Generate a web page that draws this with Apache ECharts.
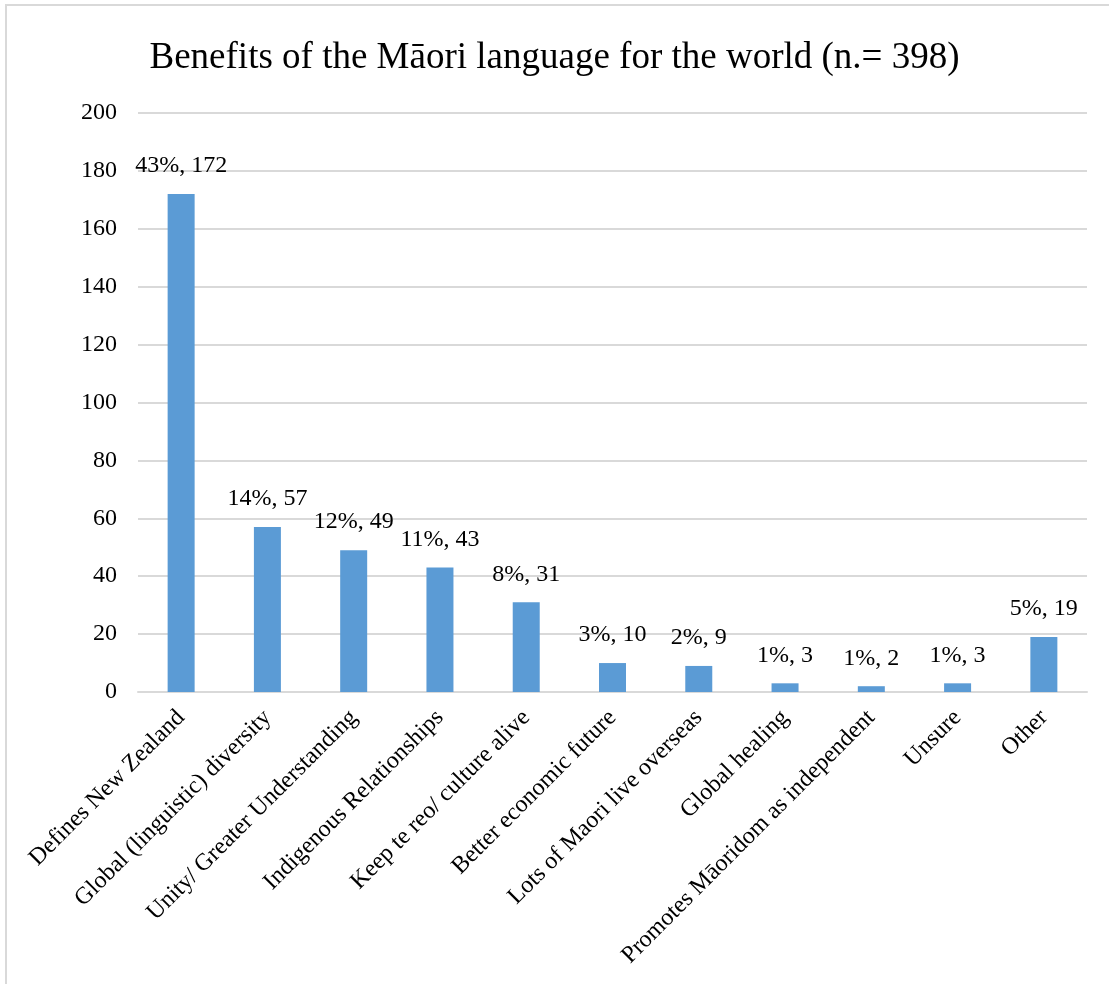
<!DOCTYPE html>
<html>
<head>
<meta charset="utf-8">
<script src="https://cdn.jsdelivr.net/npm/echarts@6/dist/echarts.min.js"></script>
<style>
  html, body { margin: 0; padding: 0; background: #fff; }
  #chart { width: 1109px; height: 984px; }
</style>
</head>
<body>
<div id="chart"></div>
<script>
// Survey responses: benefits of te reo Māori for the world
const categories = [
  'Defines New Zealand',
  'Global (linguistic) diversity',
  'Unity/ Greater Understanding',
  'Indigenous Relationships',
  'Keep te reo/ culture alive',
  'Better economic future',
  'Lots of Maori live overseas',
  'Global healing',
  'Promotes Māoridom as independent',
  'Unsure',
  'Other'
];
const counts = [172, 57, 49, 43, 31, 10, 9, 3, 2, 3, 19];
const percents = [43, 14, 12, 11, 8, 3, 2, 1, 1, 1, 5];
const yTicks = { min: 0, max: 200, interval: 20 };

const serif = '"Liberation Serif", "Times New Roman", serif';
const chart = echarts.init(document.getElementById('chart'));

chart.setOption({
  animation: false,
  backgroundColor: '#fff',
  title: {
    text: 'Benefits of the Māori language for the world (n.= 398)',
    left: 'center',
    top: 35,
    textStyle: { fontFamily: serif, fontSize: 37, fontWeight: 'normal', color: '#000' }
  },
  graphic: [{
    type: 'rect',
    shape: { x: 6, y: 5, width: 1120, height: 1000 },
    style: { fill: 'none', stroke: '#d9d9d9', lineWidth: 2 },
    silent: true,
    z: -1
  }],
  grid: { left: 138, right: 22, top: 113, bottom: 292 },
  xAxis: {
    type: 'category',
    data: categories,
    axisLine: { lineStyle: { color: '#d9d9d9', width: 2 } },
    axisTick: { show: false },
    axisLabel: {
      interval: 0,
      rotate: 45,
      margin: 22,
      fontFamily: serif,
      fontSize: 24,
      color: '#000'
    }
  },
  yAxis: {
    type: 'value',
    min: yTicks.min,
    max: yTicks.max,
    interval: yTicks.interval,
    axisLine: { show: false },
    axisTick: { show: false },
    splitLine: { lineStyle: { color: '#d9d9d9', width: 2 } },
    axisLabel: { margin: 21, fontFamily: serif, fontSize: 24, color: '#000' }
  },
  series: [{
    type: 'bar',
    data: counts,
    barWidth: 27,
    itemStyle: { color: '#5b9bd5' },
    label: {
      show: true,
      position: 'top',
      distance: 16,
      fontFamily: serif,
      fontSize: 24,
      color: '#000',
      formatter: p => percents[p.dataIndex] + '%, ' + counts[p.dataIndex]
    }
  }]
});
</script>
</body>
</html>
